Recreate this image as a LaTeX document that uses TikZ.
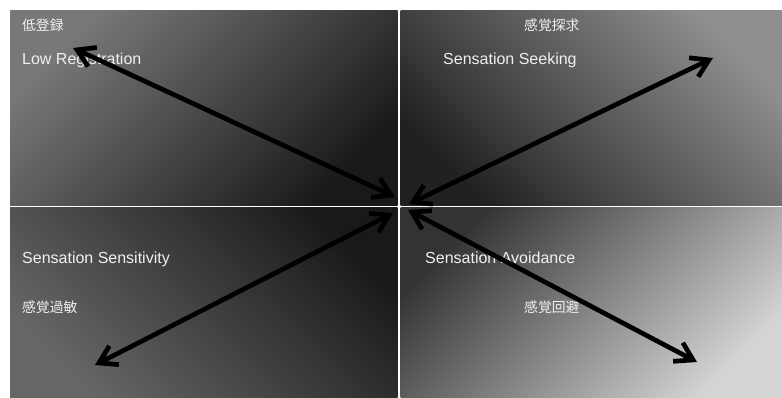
\documentclass[tikz,border=0pt]{standalone}
\usepackage{fontspec}
\setmainfont{Liberation Sans}
\newfontfamily\jpfont{Noto Sans CJK JP}
\usetikzlibrary{arrows.meta}
\tikzset{
  lbl/.style={text=white!94!black, inner sep=0pt, anchor=base west, font=\fontsize{16}{16}\selectfont},
  jlbl/.style={text=white!94!black, inner sep=0pt, anchor=base west, font=\jpfont\fontsize{13.8}{14}\selectfont},
  dbl/.style={line width=4.7pt, black, {Straight Barb[length=17pt,width=21pt]}-{Straight Barb[length=17pt,width=21pt]}}
}
\begin{document}
\begin{tikzpicture}[x=1pt,y=-1pt]
\useasboundingbox (0,0) rectangle (782,398);
\fill[white] (0,0) rectangle (782,398);
% quadrants
\shade[top color=black!53, bottom color=black!90, shading angle=45] (10,11) rectangle (397.5,206);
\shade[top color=black!44, bottom color=black!87, shading angle=-45] (400.5,11) rectangle (782,206);
\shade[top color=black!90, bottom color=black!60, shading angle=-45] (10,208) rectangle (397.5,398);
\shade[top color=black!80, bottom color=black!17, shading angle=45] (400.5,208) rectangle (782,398);
% labels
\node[jlbl] (tlj) at (22,31) {低登録};
\node[lbl] (tle) at (22,65) {Low Registration};
\node[jlbl] (trj) at (524,31) {感覚探求};
\node[lbl] (tre) at (443,65) {Sensation Seeking};
\node[lbl] (ble) at (22,264) {Sensation Sensitivity};
\node[jlbl] (blj) at (22,312) {感覚過敏};
\node[lbl] (bre) at (425,264) {Sensation Avoidance};
\node[jlbl] (brj) at (524,312) {感覚回避};
% arrow ends
\coordinate (a1) at (73,48);
\coordinate (a2) at (395,197);
\coordinate (b1) at (713,58);
\coordinate (b2) at (409,204);
\coordinate (c1) at (95,365);
\coordinate (c2) at (393,213);
\coordinate (d1) at (697,362);
\coordinate (d2) at (408,210);
\draw[dbl] (a1) -- (a2);
\draw[dbl] (b1) -- (b2);
\draw[dbl] (c1) -- (c2);
\draw[dbl] (d1) -- (d2);
\end{tikzpicture}
\end{document}
